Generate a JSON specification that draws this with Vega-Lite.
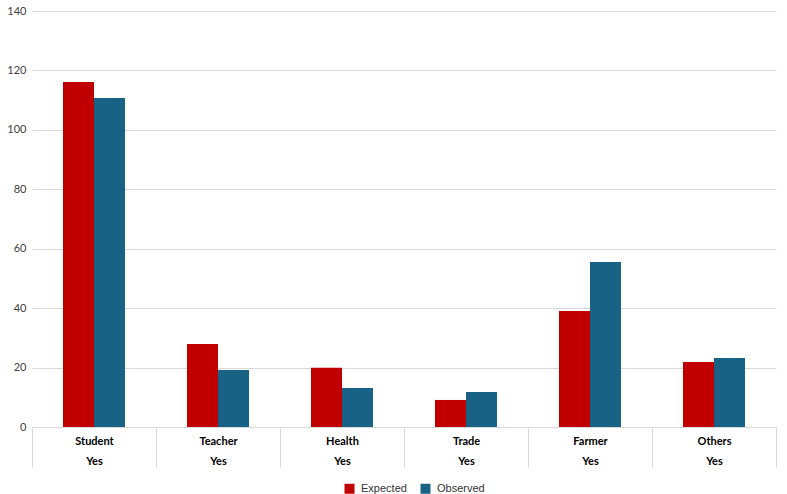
{
  "$schema": "https://vega.github.io/schema/vega-lite/v6.json",
  "width": 744,
  "height": 416,
  "autosize": {"type": "none"},
  "padding": {"left": 32, "top": 11, "right": 11, "bottom": 67},
  "config": {"view": {"stroke": null}},
  "data": {
    "values": [
      {"occupation": "Student", "type": "Expected", "value": 116.1},
      {"occupation": "Student", "type": "Observed", "value": 110.7},
      {"occupation": "Teacher", "type": "Expected", "value": 27.9},
      {"occupation": "Teacher", "type": "Observed", "value": 19.2},
      {"occupation": "Health", "type": "Expected", "value": 19.9},
      {"occupation": "Health", "type": "Observed", "value": 13.1},
      {"occupation": "Trade", "type": "Expected", "value": 9.1},
      {"occupation": "Trade", "type": "Observed", "value": 11.8},
      {"occupation": "Farmer", "type": "Expected", "value": 39.0},
      {"occupation": "Farmer", "type": "Observed", "value": 55.5},
      {"occupation": "Others", "type": "Expected", "value": 21.9},
      {"occupation": "Others", "type": "Observed", "value": 23.2}
    ]
  },
  "mark": {"type": "bar"},
  "encoding": {
    "x": {
      "field": "occupation",
      "type": "nominal",
      "sort": ["Student", "Teacher", "Health", "Trade", "Farmer", "Others"],
      "scale": {"paddingInner": 0, "paddingOuter": 0},
      "axis": {
        "title": null,
        "labelAngle": 0,
        "grid": false,
        "domainColor": "#d9d9d9",
        "ticks": true,
        "tickBand": "extent",
        "tickSize": 40,
        "tickColor": "#d9d9d9",
        "labelPadding": -32,
        "labelFont": "Lato",
        "labelFontWeight": "bold",
        "labelFontSize": 11,
        "labelColor": "#000000",
        "labelExpr": "datum.label ? [datum.label, 'Yes'] : ''",
        "labelLineHeight": 20
      }
    },
    "xOffset": {
      "field": "type",
      "sort": ["Expected", "Observed"],
      "scale": {"paddingInner": 0, "paddingOuter": 1.067}
    },
    "y": {
      "field": "value",
      "type": "quantitative",
      "scale": {"domain": [0, 140]},
      "axis": {
        "title": null,
        "values": [0, 20, 40, 60, 80, 100, 120, 140],
        "domain": false,
        "ticks": false,
        "gridColor": "#d9d9d9",
        "labelColor": "#404040",
        "labelFont": "Lato",
        "labelFontSize": 11,
        "labelPadding": 6
      }
    },
    "color": {
      "field": "type",
      "type": "nominal",
      "scale": {"domain": ["Expected", "Observed"], "range": ["#C00000", "#186285"]},
      "legend": {
        "orient": "none",
        "legendX": 312,
        "legendY": 472,
        "direction": "horizontal",
        "title": null,
        "symbolType": "square",
        "symbolSize": 100,
        "symbolStrokeWidth": 0,
        "symbolOpacity": 1,
        "labelFont": "Liberation Sans",
        "labelFontSize": 11,
        "labelColor": "#333333",
        "labelOffset": 6,
        "columnPadding": 13
      }
    }
  }
}
